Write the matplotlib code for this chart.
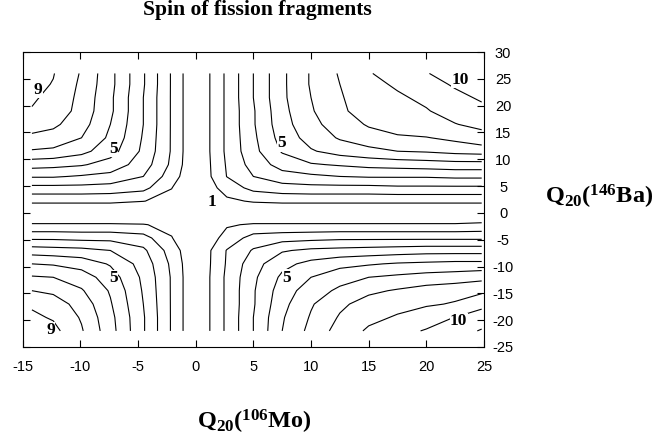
import numpy as np
import matplotlib
matplotlib.use('Agg')
import matplotlib.pyplot as plt

# Q20 grid of the two fragments (b)
q20_mo = [-14.2, -12.35, -9.9, -7.4, -4.54, -2.08, 0, 2.7, 5.0, 7.5, 10, 12.5, 15, 17.5, 20, 22.5, 24.8]
q20_ba = [-22, -19.5, -17, -14.5, -12, -9.5, -7, -4.67, -2.2, 0, 2.2, 4.67, 6.8, 9, 11.5, 14, 16.5, 19, 21.5, 24, 26]

# spin of the fragments, one row per q20_ba value
spin = [
    [9.6, 9.3, 8.1, 6.4, 4.1, 1.9, 0, 2.2, 4, 6, 7.3, 8.4, 9.15, 9.8, 10.05, 10.6, 11.08],
    [9.2, 8.9, 7.9, 6.3, 4.1, 1.9, 0, 2.2, 4, 5.9, 7.1, 8.1, 8.75, 9.1, 9.7, 10.02, 10.5],
    [8.85, 8.5, 7.6, 6.1, 4, 1.9, 0, 2.2, 3.9, 5.7, 6.9, 7.8, 8.4, 8.7, 8.85, 9.1, 9.7],
    [8.0, 7.8, 7.1, 5.9, 3.9, 1.9, 0, 2.2, 3.9, 5.5, 6.5, 7.2, 7.8, 8.1, 8.4, 8.6, 8.8],
    [7.1, 7.0, 6.5, 5.5, 3.8, 1.9, 0, 2.2, 3.8, 5.2, 6.0, 6.6, 7.0, 7.2, 7.4, 7.5, 7.7],
    [6.0, 5.9, 5.6, 4.9, 3.6, 1.8, 0, 2.1, 3.6, 4.7, 5.3, 5.7, 5.9, 6.1, 6.2, 6.3, 6.3],
    [4.5, 4.4, 4.3, 4, 3.2, 1.55, 0, 2.05, 3.1, 3.9, 4.2, 4.3, 4.4, 4.5, 4.6, 4.6, 4.6],
    [2.8, 2.8, 2.7, 2.7, 2.4, 1.04, 0, 1.35, 2.4, 2.6, 2.7, 2.8, 2.8, 2.8, 2.8, 2.8, 2.8],
    [1.1, 1.1, 1.1, 1.1, 1.05, 0.75, 0, 0.9, 1.1, 1.1, 1.1, 1.1, 1.1, 1.1, 1.1, 1.1, 1.2],
    [0, 0, 0, 0, 0, 0, 0, 0, 0, 0, 0, 0, 0, 0, 0, 0, 0],
    [1.2, 1.2, 1.2, 1.2, 1.02, 0.75, 0, 0.8, 1.1, 1.2, 1.2, 1.2, 1.2, 1.2, 1.2, 1.2, 1.2],
    [2.7, 2.7, 2.7, 2.6, 2.3, 1.02, 0, 1.45, 2.3, 2.6, 2.7, 2.7, 2.7, 2.8, 2.8, 2.8, 2.8],
    [4.1, 4.1, 3.9, 3.7, 3, 1.5, 0, 2.02, 3, 3.6, 3.8, 4, 4.1, 4.1, 4.1, 4.2, 4.2],
    [5.4, 5.3, 5.1, 4.6, 3.5, 1.8, 0, 2.1, 3.4, 4.4, 4.9, 5.1, 5.3, 5.4, 5.5, 5.6, 5.6],
    [6.9, 6.8, 6.3, 5.4, 3.8, 1.9, 0, 2.2, 3.7, 5.1, 5.9, 6.4, 6.7, 7, 7.1, 7.3, 7.4],
    [7.8, 7.6, 7, 5.8, 3.9, 1.9, 0, 2.2, 3.8, 5.4, 6.4, 7.1, 7.6, 7.85, 7.95, 8.25, 8.7],
    [8.4, 8.2, 7.4, 6, 4, 1.9, 0, 2.2, 3.9, 5.6, 6.7, 7.5, 8.1, 8.5, 8.75, 8.97, 9.2],
    [8.95, 8.7, 7.6, 6.2, 4, 1.9, 0, 2.2, 3.9, 5.7, 6.9, 7.8, 8.5, 8.7, 8.95, 9.3, 9.8],
    [9.1, 8.8, 7.7, 6.2, 4, 1.9, 0, 2.2, 4, 5.8, 7, 7.9, 8.6, 8.9, 9.15, 9.8, 10.1],
    [9.3, 8.95, 7.8, 6.3, 4.1, 1.9, 0, 2.2, 4, 5.8, 7.1, 8, 8.8, 9.1, 9.7, 10.1, 10.3],
    [9.45, 9.05, 7.9, 6.3, 4.1, 1.9, 0, 2.2, 4, 5.8, 7.1, 8.1, 8.95, 9.3, 9.97, 10.25, 10.4],
]
spin_levels = [1, 2, 3, 4, 5, 6, 7, 8, 9, 10, 11]

# contour labels: text, Q20(Mo), Q20(Ba)
level_labels = [('9', -13.65, 22.9), ('5', -7.14, 11.9), ('1', 1.4, 2.0), ('5', 7.46, 13.0),
                ('10', 22.9, 24.85), ('5', -7.14, -12.2), ('9', -12.6, -21.9), ('5', 7.9, -12.1),
                ('10', 22.8, -20.2)]

plt.rcParams['axes.unicode_minus'] = False
plt.rcParams['mathtext.fontset'] = 'custom'
plt.rcParams['mathtext.rm'] = 'Liberation Serif:bold'
plt.rcParams['mathtext.bf'] = 'Liberation Serif:bold'
plt.rcParams['mathtext.it'] = 'Liberation Serif:bold'

fig = plt.figure(figsize=(6.57, 4.44), dpi=100)
ax = fig.add_axes([22.7 / 657, 1 - 347 / 444, (484 - 22.7) / 657, (347 - 52) / 444])
ax.contour(q20_mo, q20_ba, np.array(spin), levels=spin_levels, colors='black', linewidths=0.8)

ax.set_xlim(-15, 25)
ax.set_ylim(-25, 30)
ax.set_xticks(np.arange(-15, 26, 5))
ax.set_yticks(np.arange(-25, 31, 5))
ax.tick_params(direction='in', length=5, width=0.8, top=True, left=True, right=True,
               labelleft=False, labelright=True, labelsize=10.5)
ax.tick_params(axis='y', pad=13.7)
ax.tick_params(axis='x', pad=9)
for lbl in ax.get_yticklabels():
    lbl.set_horizontalalignment('center')
for lbl in ax.get_xticklabels() + ax.get_yticklabels():
    lbl.set_family('Liberation Sans')

for s, xx, yy in level_labels:
    ax.text(xx, yy, s, family='Liberation Serif', fontweight='bold', fontsize=12.5,
            ha='center', va='center', bbox=dict(fc='white', ec='none', pad=0.3))

tl = dict(family='Liberation Serif', fontweight='bold', ha='center', va='center')
fig.text(257 / 657, 1 - 10 / 444, 'Spin of fission fragments', fontsize=15.6, **tl)
fig.text(254 / 657, 1 - 422 / 444, r'Q$_{20}$($^{106}$Mo)', fontsize=17.5, **tl)
fig.text(599 / 657, 1 - 197 / 444, r'Q$_{20}$($^{146}$Ba)', fontsize=17.5, **tl)

fig.savefig('out.png', dpi=100)
